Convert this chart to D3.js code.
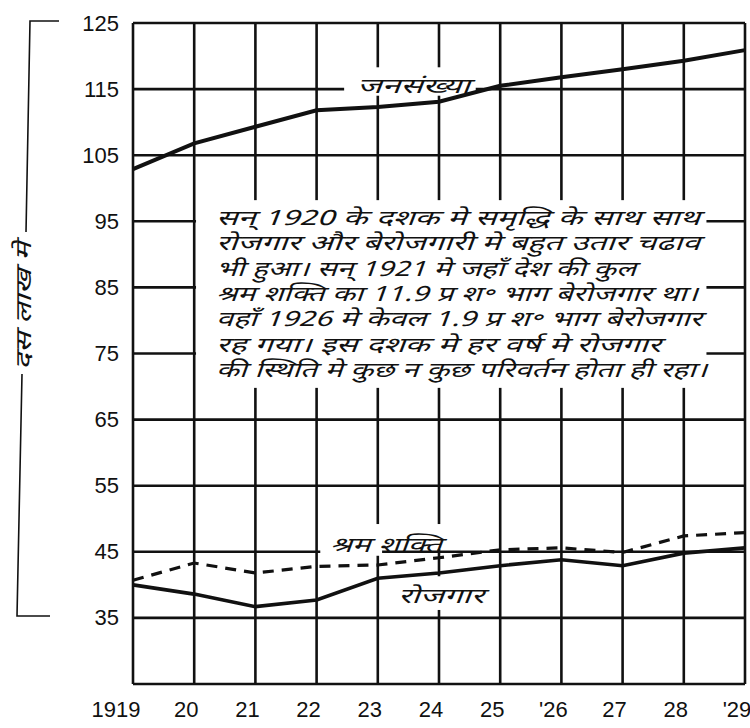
<!DOCTYPE html>
<html>
<head>
<meta charset="utf-8">
<script src="https://cdn.jsdelivr.net/npm/d3@7"></script>
<style>
  body { margin: 0; background: #fff; }
  svg { display: block; }
</style>
</head>
<body>
<svg id="chart"></svg>
<script>
// population, labour force and employment, millions
const years = [1919, 1920, 1921, 1922, 1923, 1924, 1925, 1926, 1927, 1928, 1929];
const yearLabels = ["1919", "20", "21", "22", "23", "24", "25", "'26", "27", "28", "'29"];
const population = [102.9, 106.8, 109.3, 111.8, 112.3, 113.1, 115.5, 116.8, 118.0, 119.3, 120.9];
const labourForce = [40.7, 43.3, 41.8, 42.8, 43.0, 44.1, 45.3, 45.6, 44.9, 47.4, 47.9];
const employment = [40.0, 38.6, 36.7, 37.7, 41.0, 41.8, 42.9, 43.8, 42.9, 44.8, 45.6];
const yTicks = [35, 45, 55, 65, 75, 85, 95, 105, 115, 125];

const noteLines = [
  "सन् 1920 के दशक मे समृद्धि के साथ साथ",
  "रोजगार और बेरोजगारी मे बहुत उतार चढाव",
  "भी हुआ। सन् 1921 मे जहाँ देश की कुल",
  "श्रम शक्ति का 11.9 प्र श॰ भाग बेरोजगार था।",
  "वहाँ 1926 मे केवल 1.9 प्र श॰ भाग बेरोजगार",
  "रह गया। इस दशक मे हर वर्ष मे रोजगार",
  "की स्थिति मे कुछ न कुछ परिवर्तन होता ही रहा।"
];
const noteWidths = [484, 484, 420, 482, 486, 445, 491];

const hindiFont = "'Noto Sans Devanagari', 'Lohit Devanagari', 'FreeSans', 'Noto Sans', sans-serif";
const numFont = "'Liberation Sans', Arial, sans-serif";

const margin = { top: 23, right: 5, bottom: 44, left: 133 };
const width = 750 - margin.left - margin.right;
const height = 728 - margin.top - margin.bottom;

const svg = d3.select("#chart")
    .attr("width", width + margin.left + margin.right)
    .attr("height", height + margin.top + margin.bottom);

const g = svg.append("g")
    .attr("transform", `translate(${margin.left},${margin.top})`);

const x = d3.scaleLinear().domain([1919, 1929]).range([0, width]);
const y = d3.scaleLinear().domain([25, 125]).range([height, 0]);

// grid
g.append("g").selectAll("line")
  .data(years)
  .join("line")
    .attr("x1", d => x(d)).attr("x2", d => x(d))
    .attr("y1", 0).attr("y2", height)
    .attr("stroke", "#111").attr("stroke-width", 2.6);

g.append("g").selectAll("line")
  .data([25].concat(yTicks))
  .join("line")
    .attr("x1", 0).attr("x2", width)
    .attr("y1", d => y(d)).attr("y2", d => y(d))
    .attr("stroke", "#111").attr("stroke-width", 2.6);

// white patches where the drawing breaks the grid
const blank = (x0, x1, y0, y1) => g.append("rect")
    .attr("x", x(x0)).attr("y", y(y0))
    .attr("width", x(x1) - x(x0)).attr("height", y(y1) - y(y0))
    .attr("fill", "#fff");

blank(1920.03, 1928.37, 98.2, 69.8);   // note
blank(1922.45, 1924.6, 118.3, 114.0);  // population label
blank(1922.06, 1923.07, 49.2, 44.4);   // labour force label
blank(1923.07, 1924.06, 49.2, 45.4);
blank(1923.23, 1924.8, 41.3, 36.2);    // employment label

// y labels
g.append("g")
    .attr("transform", "translate(-14,0)")
    .call(d3.axisLeft(y).tickValues(yTicks).tickSize(0).tickPadding(0).tickFormat(d3.format("d")))
    .call(a => a.select(".domain").remove())
    .selectAll("text")
    .attr("font-family", numFont)
    .attr("font-size", 22)
    .attr("fill", "#111");

// x labels
g.append("g").selectAll("text")
  .data(years)
  .join("text")
    .attr("x", (d, i) => x(d) - (i === 0 ? 17 : 8))
    .attr("y", height + 33)
    .attr("text-anchor", "middle")
    .attr("font-family", numFont)
    .attr("font-size", 22)
    .attr("fill", "#111")
    .text((d, i) => yearLabels[i]);

// lines
const line = d3.line()
    .x((d, i) => x(years[i]))
    .y(d => y(d));

g.append("path")
    .datum(population)
    .attr("d", line)
    .attr("fill", "none").attr("stroke", "#111").attr("stroke-width", 4);

g.append("path")
    .datum(employment)
    .attr("d", line)
    .attr("fill", "none").attr("stroke", "#111").attr("stroke-width", 3.6);

g.append("path")
    .datum(labourForce)
    .attr("d", line)
    .attr("fill", "none").attr("stroke", "#111").attr("stroke-width", 3.2)
    .attr("stroke-dasharray", "11,8");

// line labels
const label = (txt, cx, cy, w) => g.append("text")
    .attr("x", cx).attr("y", cy)
    .attr("font-family", hindiFont)
    .attr("font-style", "italic")
    .attr("font-size", 21)
    .attr("fill", "#111")
    .attr("textLength", w)
    .attr("lengthAdjust", "spacingAndGlyphs")
    .text(txt);

label("जनसंख्या", 224, 70, 113);
label("श्रम शक्ति", 197, 529, 112);
label("रोजगार", 265, 580, 86);

// note
g.append("g").selectAll("text")
  .data(noteLines)
  .join("text")
    .attr("x", 83)
    .attr("y", (d, i) => 202 + i * 25.3)
    .attr("font-family", hindiFont)
    .attr("font-style", "italic")
    .attr("font-size", 21)
    .attr("fill", "#111")
    .attr("textLength", (d, i) => noteWidths[i])
    .attr("lengthAdjust", "spacingAndGlyphs")
    .text(d => d);

// unit bracket on the left
svg.append("path")
    .attr("d", "M59,21 L30,21 L26,232 M22,374 L17,616 L50,616")
    .attr("fill", "none").attr("stroke", "#111").attr("stroke-width", 1.6);

svg.append("text")
    .attr("transform", "translate(31,306) rotate(-90)")
    .attr("x", -64)
    .attr("font-family", hindiFont)
    .attr("font-style", "italic")
    .attr("font-size", 22)
    .attr("fill", "#111")
    .attr("textLength", 128)
    .attr("lengthAdjust", "spacingAndGlyphs")
    .text("दस लाख मे");
</script>
</body>
</html>
